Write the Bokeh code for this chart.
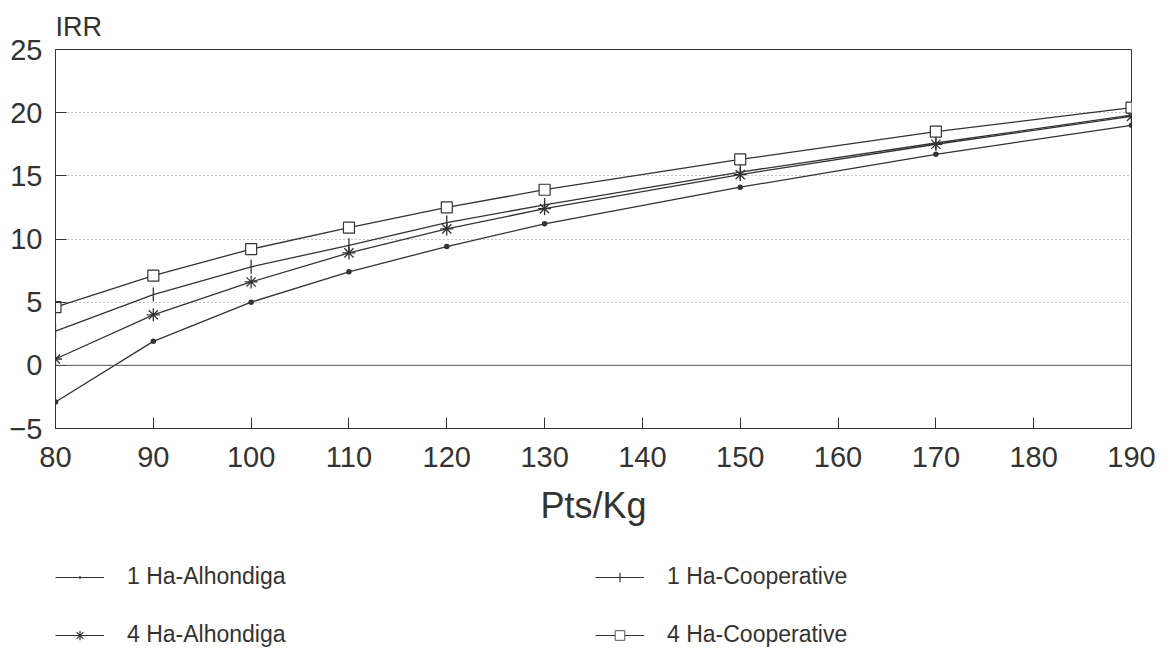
import math
from bokeh.plotting import figure
from bokeh.layouts import column
from bokeh.models import Range1d, FixedTicker, Span, Legend, LegendItem
from bokeh.embed import file_html
from bokeh.resources import INLINE

# ---- data ----
pts_kg = [80, 90, 100, 110, 120, 130, 150, 170, 190]
alhondiga_1ha = [-2.9, 1.9, 5.0, 7.4, 9.4, 11.2, 14.1, 16.7, 19.0]
cooperative_1ha = [2.7, 5.6, 7.8, 9.5, 11.3, 12.7, 15.3, 17.6, 19.8]
alhondiga_4ha = [0.5, 4.0, 6.6, 8.9, 10.8, 12.4, 15.1, 17.5, 19.7]
cooperative_4ha = [4.6, 7.1, 9.2, 10.9, 12.5, 13.9, 16.3, 18.5, 20.4]
series_names = ["1 Ha-Alhondiga", "4 Ha-Alhondiga", "1 Ha-Cooperative", "4 Ha-Cooperative"]
x_ticks = [80, 90, 100, 110, 120, 130, 140, 150, 160, 170, 180, 190]
y_ticks = [-5, 0, 5, 10, 15, 20, 25]
grid_ticks = [5, 10, 15, 20]

INK = "#333333"
FONT = "Liberation Sans"
LW = 1.3

p = figure(width=1167, height=540, x_range=Range1d(80, 190), y_range=Range1d(-5, 25),
           toolbar_location=None, output_backend="svg",
           min_border_left=55, min_border_right=36, min_border_top=49, min_border_bottom=112)
p.background_fill_color = "white"
p.border_fill_color = "white"
p.outline_line_color = INK
p.outline_line_width = 1

# title "IRR"
p.title.text = "IRR"
p.title.align = "left"
p.title.text_font = FONT
p.title.text_font_size = "27px"
p.title.text_font_style = "normal"
p.title.text_color = INK
p.title.standoff = 16

# axes
p.xaxis.ticker = FixedTicker(ticks=x_ticks)
p.yaxis.ticker = FixedTicker(ticks=y_ticks)
for ax in (p.xaxis[0], p.yaxis[0]):
    ax.major_tick_in = 11
    ax.major_tick_out = 0
    ax.minor_tick_in = 0
    ax.minor_tick_out = 0
    ax.major_tick_line_color = INK
    ax.axis_line_color = INK
    ax.major_label_text_font = FONT
    ax.major_label_text_font_size = "29px"
    ax.major_label_text_color = INK
p.xaxis.major_label_standoff = 18
p.yaxis.major_label_standoff = 13
p.xaxis.axis_label = "Pts/Kg"
p.xaxis.axis_label_text_font = FONT
p.xaxis.axis_label_text_font_size = "36px"
p.xaxis.axis_label_text_font_style = "normal"
p.xaxis.axis_label_text_color = INK
p.xaxis.axis_label_standoff = 15

# grid
p.xgrid.visible = False
p.ygrid.ticker = FixedTicker(ticks=grid_ticks)
p.ygrid.grid_line_color = "#8a8a8a"
p.ygrid.grid_line_dash = "1 3"
p.ygrid.grid_line_width = 1.2

p.add_layout(Span(location=0, dimension="width", line_color="#555555", line_width=1))

STYLES = {
    "1 Ha-Alhondiga": dict(marker="dot", size=22, line_color=INK, fill_color=INK),
    "4 Ha-Alhondiga": dict(marker="asterisk", size=13, line_color=INK, line_width=1.3),
    "1 Ha-Cooperative": dict(marker="dash", angle=math.pi / 2, size=14, line_color=INK, line_width=1.3),
    "4 Ha-Cooperative": dict(marker="square", size=11, line_color=INK, fill_color="white", line_width=1.2),
}
LEGEND_STYLES = {
    "1 Ha-Alhondiga": dict(marker="dot", line_color=INK, fill_color=INK, line_width=3),
    "4 Ha-Alhondiga": dict(marker="asterisk", line_color=INK, line_width=1.2),
    "1 Ha-Cooperative": dict(marker="cross", line_color=INK, line_width=1.2),
    "4 Ha-Cooperative": dict(marker="square", line_color="#555555", fill_color="white", line_width=1.0),
}
SERIES = {
    "1 Ha-Alhondiga": alhondiga_1ha,
    "4 Ha-Alhondiga": alhondiga_4ha,
    "1 Ha-Cooperative": cooperative_1ha,
    "4 Ha-Cooperative": cooperative_4ha,
}
for name in series_names:
    p.line(pts_kg, SERIES[name], line_color=INK, line_width=LW)
    p.scatter(pts_kg, SERIES[name], **STYLES[name])

# ---- legend strip (separate figure below the chart) ----
lg = figure(width=1167, height=108, x_range=Range1d(0, 1), y_range=Range1d(0, 1),
            toolbar_location=None, output_backend="svg",
            min_border_left=0, min_border_right=0, min_border_top=0, min_border_bottom=0)
lg.axis.visible = False
lg.grid.visible = False
lg.outline_line_color = None
lg.background_fill_color = "white"
lg.border_fill_color = "white"

items = {}
for name in series_names:
    # legend-only renderers, placed outside the visible range of the strip
    r_line = lg.line([5, 6], [5, 6], line_color=INK, line_width=1.1)
    r_mark = lg.scatter([5], [5], **LEGEND_STYLES[name])
    items[name] = LegendItem(label=name, renderers=[r_line, r_mark])


def make_legend(its, loc):
    return Legend(items=its, location=loc, orientation="vertical",
                  glyph_width=49, glyph_height=24, label_height=24, label_standoff=23, spacing=31,
                  padding=0, margin=0, border_line_alpha=0, background_fill_alpha=0,
                  label_text_font=FONT, label_text_font_size="23px", label_text_color=INK)


lg.add_layout(make_legend([items["1 Ha-Alhondiga"], items["4 Ha-Alhondiga"]], (0, 0)))
lg.add_layout(make_legend([items["1 Ha-Cooperative"], items["4 Ha-Cooperative"]], (540, 0)))

layout = column(p, lg, spacing=0)
open("out.html", "w").write(file_html(layout, INLINE))
